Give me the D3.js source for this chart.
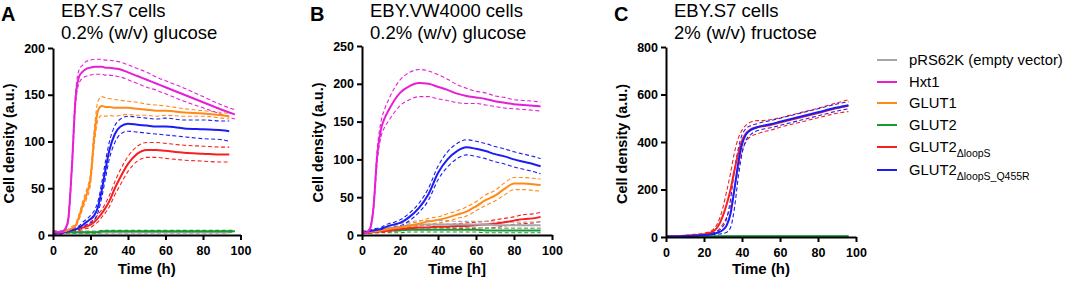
<!DOCTYPE html>
<html>
<head>
<meta charset="utf-8">
<script src="https://cdn.jsdelivr.net/npm/d3@7"></script>
<style>
body { margin: 0; background: #fff; }
text { font-family: "Liberation Sans", Arial, sans-serif; fill: #000; }
</style>
</head>
<body>
<svg id="chart" width="1065" height="282"></svg>
<script>
// legend
const seriesNames = ["pRS62K (empty vector)", "Hxt1", "GLUT1", "GLUT2", "GLUT2", "GLUT2"];
const seriesSubs = ["", "", "", "", "\u0394loopS", "\u0394loopS_Q455R"];
const seriesColors = ["#a6a6a6", "#e61fd6", "#ff8a1a", "#169a32", "#f72020", "#1c1cf5"];

// panel A : EBY.S7, 0.2% glucose
const timeA = [0, 2, 4, 6, 8, 10, 12, 14, 16, 18, 20, 22, 24, 26, 28, 30, 33, 36, 40, 45, 50, 55, 60, 70, 80, 90, 94, 97];
const emptyA = [4, 3, 3, 3, 3, 3, 3, 3, 3, 3, 3, 3, 3, 3, 3, 3, 3, 3, 3, 3, 3, 3, 3, 3, 3, 3, 3, null];
const emptyA_sd = [1, 1, 1, 1, 1, 1, 1, 1, 1, 1, 1, 1, 1, 1, 1, 1, 1, 1, 1, 1, 1, 1, 1, 1, 1, 1, 1, 1];
const hxt1A = [4, 3, 3, 5, 15, 70, 145, 170, 175, 178, 179, 180, 180, 180, 179, 179, 178, 177, 174, 170, 166, 162, 158, 150, 142, 134, 131, 129];
const hxt1A_sd = [1, 1, 1, 1, 2, 4, 6, 7, 7, 8, 8, 8, 8, 8, 8, 8, 8, 8, 8, 8, 8, 7, 7, 7, 6, 5, 5, 5];
const glut1A = [4, 3, 3, 4, 5, 7, 10, 20, 33, 44, 60, 105, 133, 138, 137, 137, 136, 136, 136, 135, 134, 133, 133, 131, 130, 128, 127, null];
const glut1A_sd = [1, 1, 1, 1, 1, 2, 2, 3, 4, 5, 6, 8, 10, 10, 10, 9, 9, 8, 7, 7, 6, 6, 5, 4, 3, 3, 3, 3];
const glut2A = [4, 3, 3, 3, 3, 3, 3, 3, 3, 3, 3, 3, 3, 4, 4, 4, 4, 4, 4, 4, 4, 4, 4, 4, 4, 4, 4, 4];
const glut2A_sd = [1, 1, 1, 1, 1, 1, 1, 1, 1, 1, 1, 1, 1, 1, 1, 1, 1, 1, 1, 1, 1, 1, 1, 1, 1, 1, 1, 1];
const loopSA = [3, 2, 2, 3, 4, 5, 6, 7, 8, 9, 11, 14, 18, 23, 29, 36, 50, 62, 76, 87, 91, 91, 90, 88, 87, 86, 86, null];
const loopSA_sd = [1, 1, 1, 1, 1, 1, 1, 2, 2, 2, 3, 3, 4, 4, 5, 6, 7, 8, 8, 8, 8, 8, 8, 8, 8, 8, 8, 8];
const q455rA = [3, 2, 2, 3, 4, 5, 6, 8, 11, 14, 17, 21, 30, 48, 70, 90, 108, 116, 119, 118, 117, 116, 116, 114, 113, 112, 111, null];
const q455rA_sd = [1, 1, 1, 1, 1, 1, 2, 2, 3, 3, 4, 5, 6, 8, 9, 9, 9, 8, 8, 8, 8, 8, 9, 9, 10, 10, 11, 11];

// panel B : EBY.VW4000, 0.2% glucose
const timeB = [0, 2, 4, 6, 8, 10, 12, 14, 17, 20, 25, 30, 35, 40, 45, 50, 55, 60, 65, 70, 75, 80, 85, 90, 94];
const emptyB = [5, 4, 4, 5, 6, 7, 8, 9, 10, 11, 13, 14, 14, 14, 14, 14, 14, 14, 14, 13, 13, 13, 13, 13, 13];
const emptyB_sd = [1, 1, 1, 2, 2, 2, 3, 3, 3, 4, 4, 5, 5, 5, 5, 4, 4, 4, 4, 4, 4, 4, 4, 4, 4];
const hxt1B = [5, 3, 7, 35, 105, 140, 155, 165, 178, 188, 197, 201, 200, 196, 192, 187, 184, 182, 180, 177, 175, 173, 172, 171, 170];
const hxt1B_sd = [1, 1, 2, 4, 8, 10, 12, 14, 16, 17, 18, 18, 17, 16, 14, 12, 10, 8, 8, 7, 7, 6, 6, 6, 6];
const glut1B = [5, 4, 4, 5, 5, 6, 7, 8, 9, 10, 12, 15, 18, 20, 23, 27, 31, 38, 46, 52, 61, 68, 68, 67, 66];
const glut1B_sd = [1, 1, 1, 1, 1, 1, 1, 2, 2, 2, 3, 3, 4, 4, 5, 5, 6, 6, 7, 7, 8, 8, 8, 8, 8];
const glut2B = [5, 4, 4, 5, 5, 5, 6, 6, 6, 6, 7, 7, 7, 7, 7, 7, 7, 7, 6, 6, 6, 6, 6, 6, 6];
const glut2B_sd = [1, 1, 1, 2, 2, 2, 2, 3, 3, 3, 3, 3, 3, 3, 3, 3, 3, 3, 3, 3, 3, 3, 3, 3, 3];
const loopSB = [3, 3, 3, 4, 4, 5, 5, 6, 7, 8, 9, 10, 10, 11, 11, 12, 12, 13, 14, 15, 17, 19, 21, 22, 24];
const loopSB_sd = [1, 1, 1, 1, 1, 1, 2, 2, 2, 2, 2, 3, 3, 3, 3, 3, 4, 4, 4, 5, 5, 5, 6, 6, 6];
const q455rB = [4, 4, 5, 6, 7, 8, 10, 12, 14, 16, 24, 36, 54, 82, 100, 111, 116, 114, 111, 107, 104, 100, 97, 94, 91];
const q455rB_sd = [1, 1, 1, 2, 2, 2, 3, 3, 3, 4, 5, 6, 8, 9, 10, 10, 10, 10, 10, 10, 10, 10, 10, 10, 10];

// panel C : EBY.S7, 2% fructose
const timeC = [0, 5, 10, 15, 20, 24, 27, 30, 32, 34, 36, 38, 40, 42, 45, 48, 50, 55, 60, 70, 80, 90, 96];
const emptyC = [3, 3, 3, 3, 3, 3, 3, 3, 3, 3, 3, 3, 3, 3, 3, 3, 3, 3, 3, 3, 3, 3, 3];
const emptyC_sd = [1, 1, 1, 1, 1, 1, 1, 1, 1, 1, 1, 1, 1, 1, 1, 1, 1, 1, 1, 1, 1, 1, 1];
const glut2C = [3, 3, 3, 3, 3, 3, 3, 3, 3, 3, 3, 3, 3, 3, 3, 3, 3, 3, 3, 3, 3, 3, 3];
const glut2C_sd = [1, 1, 1, 1, 1, 1, 1, 1, 1, 1, 1, 1, 1, 1, 1, 1, 1, 1, 1, 1, 1, 1, 1];
const loopSC = [2, 3, 5, 8, 12, 20, 40, 90, 140, 200, 280, 350, 405, 435, 455, 462, 465, 472, 482, 502, 522, 543, 553];
const loopSC_sd = [1, 1, 2, 3, 4, 6, 15, 35, 55, 70, 75, 65, 45, 35, 30, 28, 25, 22, 20, 20, 20, 22, 25];
const q455rC = [2, 2, 4, 5, 8, 12, 18, 30, 50, 100, 200, 310, 390, 430, 452, 462, 467, 475, 485, 505, 525, 545, 555];
const q455rC_sd = [1, 1, 1, 2, 2, 3, 6, 15, 30, 60, 80, 60, 40, 25, 18, 15, 15, 15, 15, 15, 15, 15, 15];

const svg = d3.select("#chart");
svg.append("rect").attr("width", 1065).attr("height", 282).attr("fill", "#fff");

function drawPanel(cfg) {
    const x = d3.scaleLinear().domain([0, 100]).range([cfg.left, cfg.right]);
    const y = d3.scaleLinear().domain([0, cfg.yMax]).range([cfg.bottom, cfg.top]);

    const line = d3.line()
        .defined(d => d.v != null)
        .x(d => x(d.t))
        .y(d => y(d.v))
        .curve(d3.curveMonotoneX);

    const g = svg.append("g");

    // dashed SD lines first, mean on top
    cfg.series.forEach(s => {
        const up = cfg.time.map((t, i) => ({ t: t, v: s.mean[i] == null ? null : s.mean[i] + s.sd[i] }));
        const lo = cfg.time.map((t, i) => ({ t: t, v: s.mean[i] == null ? null : Math.max(0, s.mean[i] - s.sd[i]) }));
        [up, lo].forEach(pts => {
            g.append("path")
                .datum(pts)
                .attr("fill", "none")
                .attr("stroke", seriesColors[s.k])
                .attr("stroke-width", 1.1)
                .attr("stroke-dasharray", "4,2.5")
                .attr("d", line);
        });
    });
    cfg.series.forEach(s => {
        g.append("path")
            .datum(cfg.time.map((t, i) => ({ t: t, v: s.mean[i] })))
            .attr("fill", "none")
            .attr("stroke", seriesColors[s.k])
            .attr("stroke-width", 2)
            .attr("d", line);
    });

    const xAxis = g.append("g")
        .attr("transform", `translate(0,${cfg.bottom})`)
        .call(d3.axisBottom(x).tickValues([0, 20, 40, 60, 80, 100]).tickSize(5).tickSizeOuter(0).tickPadding(6));
    const yAxis = g.append("g")
        .attr("transform", `translate(${cfg.left},0)`)
        .call(d3.axisLeft(y).tickValues(d3.range(0, cfg.yMax + 1, cfg.yStep)).tickSize(5).tickSizeOuter(0).tickPadding(3));

    [xAxis, yAxis].forEach(a => {
        a.select(".domain").attr("stroke", "#000").attr("stroke-width", 2);
        a.selectAll(".tick line").attr("stroke", "#000").attr("stroke-width", 2);
        a.selectAll(".tick text")
            .attr("fill", "#000")
            .style("font-family", "'Liberation Sans', Arial, sans-serif")
            .style("font-size", "12.5px")
            .style("font-weight", "bold");
    });

    g.append("text")
        .attr("x", (cfg.left + cfg.right) / 2)
        .attr("y", 274)
        .attr("text-anchor", "middle")
        .style("font-size", "15px")
        .style("font-weight", "bold")
        .text(cfg.xTitle);

    g.append("text")
        .attr("transform", `translate(${cfg.left - 39},${(cfg.top + cfg.bottom) / 2 + 2}) rotate(-90)`)
        .attr("text-anchor", "middle")
        .style("font-size", "14.5px")
        .style("font-weight", "bold")
        .text("Cell density (a.u.)");

    g.append("text")
        .attr("x", cfg.left - 52)
        .attr("y", 21)
        .style("font-size", "20px")
        .style("font-weight", "bold")
        .text(cfg.letter);

    cfg.title.forEach((t, i) => {
        g.append("text")
            .attr("x", cfg.left + 8)
            .attr("y", 17 + i * 22)
            .style("font-size", "18.5px")
            .text(t);
    });
}

drawPanel({
    letter: "A", title: ["EBY.S7 cells", "0.2% (w/v) glucose"], xTitle: "Time (h)",
    left: 53, right: 240.5, top: 48, bottom: 235, yMax: 200, yStep: 50,
    time: timeA,
    series: [
        { k: 0, mean: emptyA, sd: emptyA_sd },
        { k: 3, mean: glut2A, sd: glut2A_sd },
        { k: 4, mean: loopSA, sd: loopSA_sd },
        { k: 5, mean: q455rA, sd: q455rA_sd },
        { k: 2, mean: glut1A, sd: glut1A_sd },
        { k: 1, mean: hxt1A, sd: hxt1A_sd }
    ]
});

drawPanel({
    letter: "B", title: ["EBY.VW4000 cells", "0.2% (w/v) glucose"], xTitle: "Time [h]",
    left: 362, right: 552, top: 46, bottom: 235, yMax: 250, yStep: 50,
    time: timeB,
    series: [
        { k: 3, mean: glut2B, sd: glut2B_sd },
        { k: 4, mean: loopSB, sd: loopSB_sd },
        { k: 0, mean: emptyB, sd: emptyB_sd },
        { k: 2, mean: glut1B, sd: glut1B_sd },
        { k: 5, mean: q455rB, sd: q455rB_sd },
        { k: 1, mean: hxt1B, sd: hxt1B_sd }
    ]
});

drawPanel({
    letter: "C", title: ["EBY.S7 cells", "2% (w/v) fructose"], xTitle: "Time (h)",
    left: 666, right: 856, top: 47, bottom: 237, yMax: 800, yStep: 200,
    time: timeC,
    series: [
        { k: 0, mean: emptyC, sd: emptyC_sd },
        { k: 3, mean: glut2C, sd: glut2C_sd },
        { k: 4, mean: loopSC, sd: loopSC_sd },
        { k: 5, mean: q455rC, sd: q455rC_sd }
    ]
});

// legend
const legend = svg.append("g");
const rowY = [60, 82, 103, 125, 147, 170];
seriesNames.forEach((name, i) => {
    legend.append("line")
        .attr("x1", 877).attr("x2", 897)
        .attr("y1", rowY[i]).attr("y2", rowY[i])
        .attr("stroke", seriesColors[i])
        .attr("stroke-width", 2);
    const t = legend.append("text")
        .attr("x", 909)
        .attr("y", rowY[i] + 5)
        .style("font-size", "14.8px");
    t.append("tspan").text(name);
    if (seriesSubs[i]) {
        t.append("tspan")
            .attr("dy", 5)
            .style("font-size", "10.5px")
            .text(seriesSubs[i]);
    }
});
</script>
</body>
</html>
